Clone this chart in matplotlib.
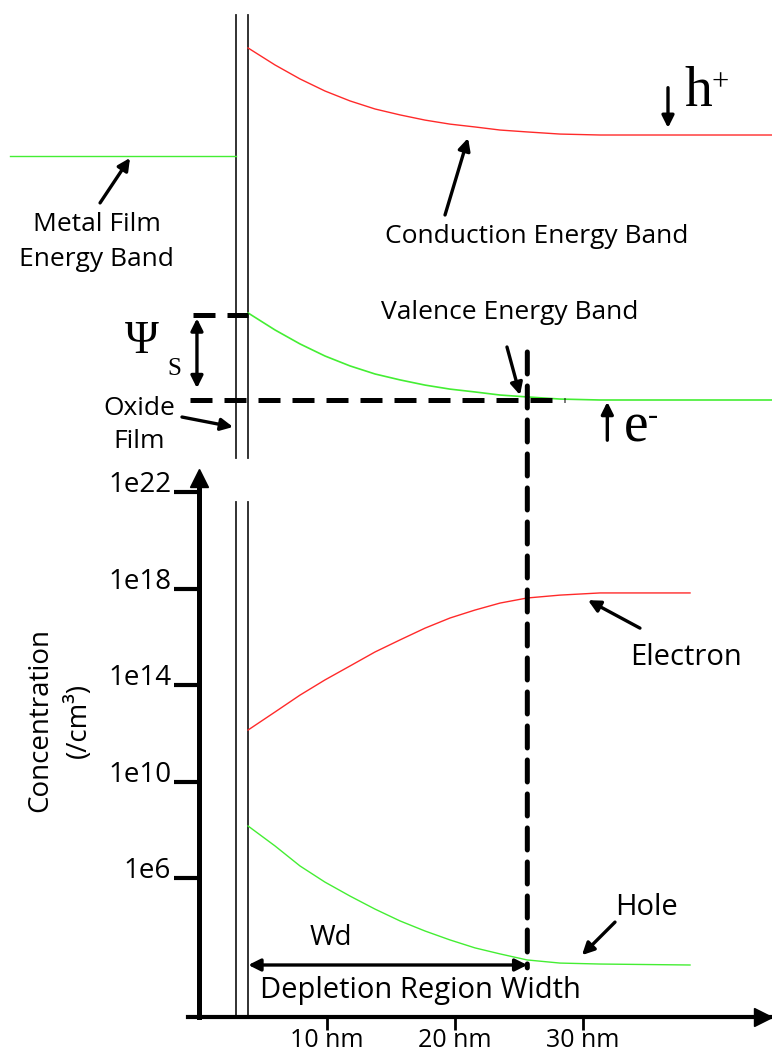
import numpy as np
import matplotlib.pyplot as plt
from matplotlib.patches import ConnectionPatch

plt.rcParams['font.family'] = ['Open Sans', 'DejaVu Sans']

# distance from the metal (nm)
oxide_x = [2.9, 3.85]
metal_x = [-14.8, 2.9]
band_x = [3.83, 5.94, 7.89, 9.84, 11.80, 13.75, 15.70, 17.66, 19.61, 21.56,
          23.52, 25.63, 28.20, 31.33, 44.77]
# band edges (eV), valence band in the bulk = 0
cond_band = [1.488, 1.416, 1.357, 1.306, 1.264, 1.230, 1.205, 1.183, 1.166,
             1.154, 1.141, 1.133, 1.124, 1.120, 1.120]
val_band = [0.368, 0.296, 0.237, 0.186, 0.144, 0.110, 0.085, 0.063, 0.046,
            0.034, 0.021, 0.013, 0.004, 0.0, 0.0]
metal_level = 1.03
psi_s = 0.36
wd = 25.65

# carrier concentration (log10 of /cm3)
conc_x = [3.83, 5.94, 7.89, 9.84, 11.80, 13.75, 15.70, 17.66, 19.61, 21.56,
          23.52, 25.63, 28.20, 31.33, 38.36]
electron_log = [12.14, 12.89, 13.59, 14.22, 14.80, 15.38, 15.88, 16.37, 16.79,
                17.12, 17.41, 17.62, 17.74, 17.83, 17.83]
hole_log = [8.16, 7.33, 6.50, 5.83, 5.25, 4.71, 4.22, 3.80, 3.43, 3.10, 2.85,
            2.60, 2.47, 2.43, 2.39]
conc_ticks = [1e6, 1e10, 1e14, 1e18, 1e22]
conc_labels = ['1e6', '1e10', '1e14', '1e18', '1e22']
nm_ticks = [10, 20, 30]
nm_labels = ['10 nm', '20 nm', '30 nm']

red = '#ff2a2a'
green = '#44ee33'
fs = 19
serif = 'Liberation Serif'
arrow = dict(arrowstyle='-|>', color='k', lw=2.4, mutation_scale=18,
             shrinkA=0, shrinkB=0)
arrow2 = dict(arrow, arrowstyle='<|-|>')
dash = (0, (4.4, 2.4))

fig = plt.figure(figsize=(7.72, 10.57), dpi=100)

# ---- energy band diagram ----
ax1 = fig.add_axes([0, 1 - 470 / 1057, 1, 470 / 1057])
ax1.set_xlim(-199 / 12.8, 573 / 12.8)
ax1.set_ylim(-70 / 236.6, 400 / 236.6)
ax1.axis('off')

for x in oxide_x:
    ax1.plot([x, x], [-0.245, 1.627], color='#222222', lw=1.3)
ax1.plot(metal_x, [metal_level, metal_level], color=green, lw=1)
ax1.plot(band_x, cond_band, color=red, lw=1)
ax1.plot(band_x, val_band, color=green, lw=1.2)

ax1.plot([-0.47, oxide_x[1]], [psi_s, psi_s], color='k', lw=3.6, ls=dash)
ax1.plot([-0.7, 28.6], [0.0, 0.0], color='k', lw=3.6, ls=dash)
ax1.annotate('', xy=(-0.16, 0.05), xytext=(-0.16, 0.345), arrowprops=arrow2)
ax1.text(-4.45, 0.245, '\u03a8', fontsize=33, family=serif,
         ha='center', va='center')
ax1.text(-1.9, 0.13, 'S', fontsize=18, family=serif, ha='center', va='center')

ax1.annotate('', xy=(-5.39, 1.023), xytext=(-7.73, 0.833), arrowprops=arrow)
ax1.text(-8.0, 0.668, 'Metal Film\nEnergy Band', fontsize=fs, ha='center',
         va='center', linespacing=1.5)
ax1.annotate('', xy=(21.02, 1.107), xytext=(19.22, 0.782), arrowprops=arrow)
ax1.text(26.4, 0.693, 'Conduction Energy Band', fontsize=fs, ha='center',
         va='center')
ax1.annotate('', xy=(25.08, 0.021), xytext=(24.06, 0.224), arrowprops=arrow)
ax1.text(24.3, 0.368, 'Valence Energy Band', fontsize=fs, ha='center',
         va='center')
ax1.annotate('', xy=(2.66, -0.114), xytext=(-1.33, -0.072), arrowprops=arrow)
ax1.text(-4.69, -0.106, 'Oxide\nFilm', fontsize=fs, ha='center', va='center',
         linespacing=1.4)

ax1.annotate('', xy=(36.64, 1.15), xytext=(36.64, 1.32), arrowprops=arrow)
ax1.text(38.98, 1.302, 'h', fontsize=40, family=serif, ha='center', va='center')
ax1.text(40.75, 1.34, '+', fontsize=22, family=serif, ha='center', va='center')
ax1.annotate('', xy=(31.9, -0.008), xytext=(31.9, -0.17), arrowprops=arrow)
ax1.text(34.14, -0.118, 'e', fontsize=40, family=serif, ha='center', va='center')
ax1.text(35.45, -0.07, '-', fontsize=22, family=serif, ha='center', va='center')

# ---- carrier concentration ----
ax2 = fig.add_axes([188 / 772, 40 / 1057, 584 / 772, 539 / 1057])
ax2.set_yscale('log')
ax2.set_xlim(-11 / 12.8, 573 / 12.8)
ax2.set_ylim(10 ** 0.232, 10 ** 22.6)
ax2.patch.set_visible(False)
ax2.spines[['top', 'right']].set_visible(False)
ax2.spines['left'].set_position(('data', 0))
ax2.spines['left'].set_linewidth(3.6)
ax2.spines['bottom'].set_linewidth(3.0)
ax2.plot(0, 1, '^k', ms=13, transform=ax2.get_xaxis_transform(), clip_on=False)
ax2.plot(0.985, 0, '>k', ms=13, transform=ax2.transAxes, clip_on=False)

ax2.set_yticks(conc_ticks, conc_labels)
ax2.minorticks_off()
ax2.tick_params(axis='y', direction='out', length=18, width=3, pad=2,
                labelsize=20)
for lbl in ax2.get_yticklabels():
    lbl.set_va('baseline')
ax2.set_xticks(nm_ticks, nm_labels)
ax2.tick_params(axis='x', direction='out', length=9, width=2, pad=-1,
                labelsize=18)

for x in oxide_x:
    ax2.plot([x, x], [10 ** 0.232, 10 ** 21.6], color='#222222', lw=1.3)
ax2.plot(conc_x, 10.0 ** np.array(electron_log), color=red, lw=1)
ax2.plot(conc_x, 10.0 ** np.array(hole_log), color=green, lw=1)

ax2.set_ylabel('Concentration\n(/cm\u00b3)', fontsize=20, linespacing=1.5)
ax2.yaxis.set_label_coords(-0.163, 0.551)

ax2.annotate('', xy=(30.39, 10 ** 17.53), xytext=(34.45, 10 ** 16.37),
             arrowprops=arrow)
ax2.text(38.05, 10 ** 15.17, 'Electron', fontsize=21, ha='center', va='center')
ax2.annotate('', xy=(29.92, 10 ** 2.8), xytext=(32.5, 10 ** 4.17),
             arrowprops=arrow)
ax2.text(35.0, 10 ** 4.76, 'Hole', fontsize=21, ha='center', va='center')
ax2.annotate('', xy=(oxide_x[1], 10 ** 2.39), xytext=(wd, 10 ** 2.39),
             arrowprops=arrow2)
ax2.text(10.3, 10 ** 3.51, 'Wd', fontsize=20, ha='center', va='center')
ax2.text(17.27, 10 ** 1.35, 'Depletion Region Width', fontsize=21,
         ha='center', va='center')

# depletion edge, through both panels
edge = ConnectionPatch(xyA=(wd, 0.203), coordsA=ax1.transData,
                       xyB=(wd, 10 ** 2.27), coordsB=ax2.transData,
                       color='k', lw=3.6, ls=dash)
fig.add_artist(edge)

fig.savefig('out.png', dpi=100)
